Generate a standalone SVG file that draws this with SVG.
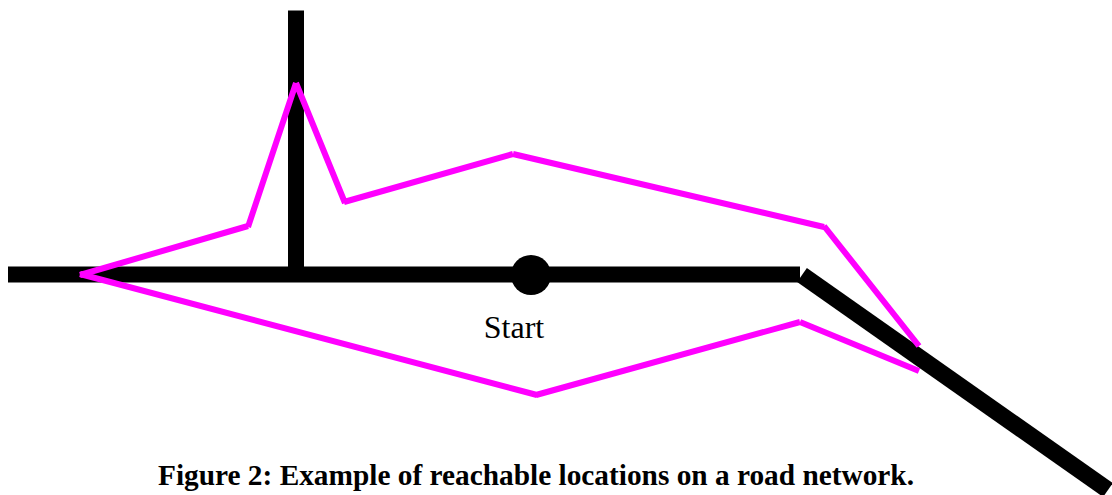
<svg xmlns="http://www.w3.org/2000/svg" width="1112" height="495" viewBox="0 0 1112 495">
<style>
.road{fill:none;stroke:#000;stroke-width:16}
.reach{fill:none;stroke:#f0f;stroke-width:6}
text{font-family:"Liberation Serif","Times New Roman",serif;fill:#000}
</style>
<rect width="1112" height="495" fill="#fff"/>
<g id="connectors">
<path id="road-main" class="road" d="M8 274.500H800"/>
<path id="road-north" class="road" d="M296 10.500V274"/>
<path id="road-east" class="road" style="stroke-width:17" d="M802 275L1108 490"/>
<path id="reachable-upper" class="reach" d="M80 275L248 226M248 227L296 83M296 83L345 203M344 202L513 154M513 154L824 227M824 226L919 346"/>
<path id="reachable-lower" class="reach" d="M80 274L537 395M536 395L800 322M800 322L919 371"/>
</g>
<g id="start">
<circle cx="531" cy="275" r="20"/>
<text x="514" y="338" font-size="32" text-anchor="middle">Start</text>
</g>
<text id="caption" x="536" y="485" font-size="29.330" font-weight="bold" text-anchor="middle">Figure 2: Example of reachable locations on a road network.</text>
</svg>
